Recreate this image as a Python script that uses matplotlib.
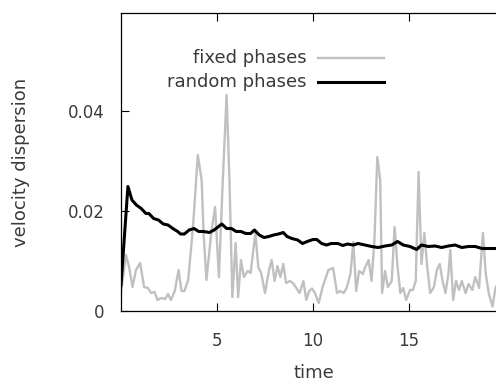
import numpy as np
import matplotlib
matplotlib.use('agg')
import matplotlib.pyplot as plt

# fixed phases (grey)
t_fixed = [0.0, 0.26, 0.42, 0.6, 0.78, 1.0, 1.2, 1.4, 1.57, 1.75, 1.9, 2.1, 2.3, 2.45, 2.6,
           2.8, 3.0, 3.15, 3.3, 3.5, 3.75, 4.0, 4.2, 4.3, 4.45, 4.7, 4.9, 5.1, 5.3, 5.5,
           5.65, 5.8, 5.97, 6.1, 6.25, 6.4, 6.6, 6.75, 7.0, 7.15, 7.3, 7.5, 7.7, 7.85, 8.0,
           8.15, 8.3, 8.45, 8.6, 8.8, 8.95, 9.1, 9.3, 9.5, 9.65, 9.8, 9.95, 10.1, 10.3, 10.5,
           10.8, 11.05, 11.25, 11.4, 11.6, 11.75, 11.95, 12.1, 12.25, 12.4, 12.6, 12.7, 12.9,
           13.05, 13.2, 13.35, 13.5, 13.6, 13.75, 13.9, 14.1, 14.25, 14.4, 14.55, 14.7, 14.85,
           15.05, 15.2, 15.35, 15.5, 15.65, 15.8, 15.95, 16.1, 16.3, 16.45, 16.6, 16.75, 16.9,
           17.05, 17.15, 17.3, 17.45, 17.6, 17.75, 17.95, 18.1, 18.3, 18.45, 18.65, 18.75,
           18.85, 19.0, 19.15, 19.35, 19.5, 19.7, 20.0]
v_fixed = [0.0036, 0.0112, 0.0088, 0.0048, 0.0082, 0.0096, 0.0048, 0.0046, 0.0036, 0.0038,
           0.0022, 0.0026, 0.0024, 0.0034, 0.0022, 0.0040, 0.0082, 0.0040, 0.0040, 0.0062,
           0.0168, 0.0312, 0.0262, 0.0156, 0.0062, 0.0156, 0.0208, 0.0068, 0.0260, 0.0432,
           0.0260, 0.0028, 0.0136, 0.0028, 0.0102, 0.0068, 0.0080, 0.0076, 0.0156, 0.0088,
           0.0076, 0.0036, 0.0080, 0.0102, 0.0060, 0.0090, 0.0068, 0.0094, 0.0056, 0.0060,
           0.0056, 0.0048, 0.0036, 0.0060, 0.0022, 0.0040, 0.0045, 0.0036, 0.0016, 0.0048,
           0.0082, 0.0086, 0.0036, 0.0040, 0.0036, 0.0046, 0.0074, 0.0138, 0.0040, 0.0080,
           0.0074, 0.0086, 0.0102, 0.0060, 0.0142, 0.0308, 0.0262, 0.0036, 0.0080, 0.0048,
           0.0060, 0.0168, 0.0090, 0.0036, 0.0046, 0.0022, 0.0042, 0.0042, 0.0060, 0.0278,
           0.0094, 0.0156, 0.0088, 0.0036, 0.0048, 0.0082, 0.0094, 0.0060, 0.0036, 0.0074,
           0.0122, 0.0022, 0.0060, 0.0042, 0.0060, 0.0036, 0.0054, 0.0042, 0.0068, 0.0046,
           0.0102, 0.0156, 0.0074, 0.0036, 0.0009, 0.0046, 0.0060, 0.0050]

# random phases (black)
t_random = [0.0, 0.36, 0.57, 0.8, 1.05, 1.3, 1.45, 1.7, 1.95, 2.2, 2.45, 2.7, 2.95, 3.1, 3.3,
            3.55, 3.8, 4.05, 4.3, 4.6, 4.85, 5.25, 5.5, 5.75, 6.0, 6.25, 6.5, 6.75, 6.95, 7.2,
            7.45, 7.7, 7.95, 8.2, 8.45, 8.65, 8.9, 9.2, 9.45, 9.7, 10.0, 10.2, 10.45, 10.7,
            10.95, 11.3, 11.55, 11.8, 12.1, 12.35, 12.7, 13.05, 13.4, 13.75, 14.1, 14.4, 14.7,
            15.05, 15.4, 15.65, 16.0, 16.35, 16.7, 17.05, 17.4, 17.75, 18.1, 18.45, 18.8,
            19.15, 19.5, 20.0]
v_random = [0.0052, 0.0249, 0.0222, 0.0212, 0.0205, 0.0195, 0.0195, 0.0185, 0.0182, 0.0174,
            0.0172, 0.0165, 0.0159, 0.0154, 0.0154, 0.0162, 0.0165, 0.0159, 0.0159, 0.0157,
            0.0162, 0.0174, 0.0165, 0.0165, 0.0159, 0.0159, 0.0155, 0.0155, 0.0162, 0.0152,
            0.0147, 0.0149, 0.0152, 0.0154, 0.0157, 0.0149, 0.0145, 0.0142, 0.0135, 0.0139,
            0.0143, 0.0143, 0.0135, 0.0132, 0.0135, 0.0135, 0.0131, 0.0134, 0.0132, 0.0135,
            0.0132, 0.0129, 0.0127, 0.0130, 0.0132, 0.0139, 0.0132, 0.0129, 0.0123, 0.0132,
            0.0129, 0.0130, 0.0127, 0.0130, 0.0132, 0.0127, 0.0129, 0.0129, 0.0125, 0.0125,
            0.0125, 0.0124]

x_ticks = [5, 10, 15]
y_ticks = [0, 0.02, 0.04]
y_ticklabels = ['0', '0.02', '0.04']

text_color = '#3a3a3a'
grey = '#c0c0c0'

fig = plt.figure(figsize=(4.96, 3.81), dpi=100)
# the right border of the frame falls just outside the picture
ax = fig.add_axes([121 / 496, 70 / 381, 384 / 496, 298 / 381])

ax.plot(t_fixed, v_fixed, color=grey, lw=1.7)
ax.plot(t_random, v_random, color='black', lw=2.2)

ax.set_xlim(0, 20)
ax.set_ylim(0, 0.0596)
ax.set_xticks(x_ticks)
ax.set_yticks(y_ticks)
ax.set_yticklabels(y_ticklabels)
ax.tick_params(direction='in', length=6, width=0.8, top=True, right=True,
               labelsize=12, labelcolor=text_color, color='black')
ax.tick_params(axis='x', pad=15)
ax.tick_params(axis='y', pad=12)
for s in ax.spines.values():
    s.set_linewidth(0.9)

ax.set_xlabel('time', fontsize=13, color=text_color, va='center')
ax.xaxis.set_label_coords(0.501, -0.208)
ax.set_ylabel('velocity dispersion', fontsize=13, color=text_color, va='center')
ax.yaxis.set_label_coords(-0.26, 0.5)

# gnuplot-style key: right-aligned text, sample line on the right
ax.text(0.484, 0.849, 'fixed phases', transform=ax.transAxes, ha='right', va='center',
        fontsize=13, color=text_color)
ax.text(0.484, 0.768, 'random phases', transform=ax.transAxes, ha='right', va='center',
        fontsize=13, color=text_color)
ax.plot([0.513, 0.685], [0.849, 0.849], color=grey, lw=1.7, transform=ax.transAxes)
ax.plot([0.513, 0.685], [0.768, 0.768], color='black', lw=2.2, transform=ax.transAxes)

plt.savefig('out.png', dpi=100)
